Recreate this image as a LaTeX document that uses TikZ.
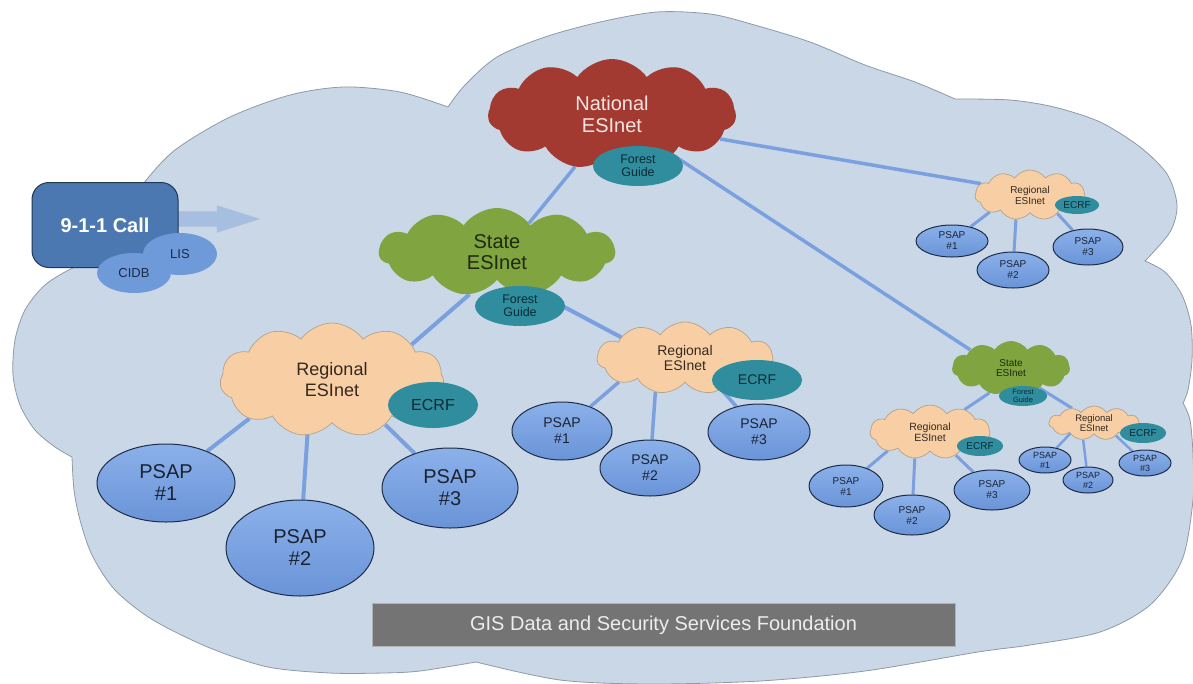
\documentclass[tikz,border=0pt]{standalone}
\usepackage{fontspec}
\setmainfont{Liberation Sans}
\usetikzlibrary{shapes.symbols,shapes.geometric,shapes.arrows}

\definecolor{bgfill}{HTML}{C9D7E6}
\definecolor{bgline}{HTML}{8D9AA8}
\definecolor{natred}{HTML}{A23A31}
\definecolor{nattext}{HTML}{F5E4E0}
\definecolor{stategreen}{HTML}{80A43F}
\definecolor{statetext}{HTML}{1E2A0E}
\definecolor{regfill}{HTML}{F8CFA5}
\definecolor{regline}{HTML}{B5A28A}
\definecolor{regtext}{HTML}{33291F}
\definecolor{tealfill}{HTML}{2F8D9D}
\definecolor{tealtext}{HTML}{0C2B36}
\definecolor{psaptop}{HTML}{8BB1EA}
\definecolor{psapbot}{HTML}{6A94D8}
\definecolor{psapline}{HTML}{1E2C48}
\definecolor{psaptext}{HTML}{1C2333}
\definecolor{linkblue}{HTML}{7BA0E0}
\definecolor{callblue}{HTML}{4B78B1}
\definecolor{callline}{HTML}{1F3656}
\definecolor{lisblue}{HTML}{6E9ADA}
\definecolor{listext}{HTML}{1B2B4A}
\definecolor{arrowblue}{HTML}{A6BEDF}
\definecolor{gisgray}{HTML}{747474}

\newcommand{\fsz}[2]{\fontsize{#1}{#2}\selectfont}

\pgfdeclarelayer{bgcloud}
\pgfdeclarelayer{links}
\pgfsetlayers{bgcloud,links,main}

\tikzset{
  esinet/.style={cloud, cloud puffs=11, cloud puff arc=110, cloud ignores aspect, inner sep=0pt, align=center},
  regional/.style={esinet, fill=regfill, draw=regline, line width=0.7pt, text=regtext},
  psap/.style={ellipse, draw=psapline, line width=1pt, top color=psaptop, bottom color=psapbot, inner sep=0pt, align=center, text=psaptext},
  helper/.style={ellipse, fill=tealfill, inner sep=0pt, align=center, text=tealtext},
  link/.style={draw=linkblue, line width=#1},
  link/.default=3.5pt,
}

\begin{document}
\begin{tikzpicture}[x=1pt,y=-1pt]
\useasboundingbox (0,0) rectangle (1193,683);

\begin{pgfonlayer}{bgcloud}
  \fill[white] (0,0) rectangle (1193,683);
  \path[fill=bgfill, draw=bgline, line width=0.8pt]
    plot[smooth] coordinates {(72,457) (55,447) (35,430) (20,405) (13,375) (15,340) (25,310) (45,285) (75,267) (108,258)}
    -- plot[smooth] coordinates {(108,258) (118,230) (130,205) (143,184) (175,150) (230,117) (290,95) (344,87) (400,92) (448,107)}
    -- plot[smooth] coordinates {(448,107) (465,85) (497,57) (545,37) (600,22) (657,12) (710,14) (751,24) (810,42) (865,65) (915,82) (955,99)}
    -- plot[smooth] coordinates {(955,99) (1010,100) (1054,107) (1100,122) (1140,147) (1167,174) (1177,205) (1170,232) (1145,261)}
    -- plot[smooth] coordinates {(1145,261) (1165,272) (1182,295) (1191,325) (1192,360) (1188,390) (1183,403)}
    -- plot[smooth] coordinates {(1183,403) (1190,420) (1193,455) (1193,500) (1182,560) (1150,605) (1100,632) (1030,645) (978,652) (865,671) (760,681) (650,684) (560,680) (476,662)}
    -- plot[smooth] coordinates {(476,662) (420,671) (383,673) (330,673) (268,667) (210,648) (153,620) (115,590) (92,555) (80,520) (74,490) (72,457)}
    -- cycle;
\end{pgfonlayer}

\node[single arrow, fill=arrowblue, inner xsep=0pt, inner ysep=7.5pt, single arrow head extend=6pt,
      single arrow tip angle=35, minimum height=86, anchor=west] (callarrow) at (174,219) {};
\node[rectangle, rounded corners=17, fill=callblue, draw=callline, line width=1pt, minimum width=146, minimum height=85,
      text=white, font=\fsz{20}{22}\bfseries] (call) at (105,225) {9-1-1 Call};
\node[ellipse, fill=lisblue, minimum width=74, minimum height=42, inner sep=0pt, text=listext, font=\fsz{13}{15}] (lis) at (180,254) {LIS};
\node[ellipse, fill=lisblue, minimum width=74, minimum height=40, inner sep=0pt, text=listext, font=\fsz{13}{15}] (cidb) at (134,273) {CIDB};

\node[esinet, fill=natred, text=nattext, minimum width=248, minimum height=110, font=\fsz{20}{22}] (national) at (612,114) {National\\ESInet};
\node[helper, minimum width=90, minimum height=40, font=\fsz{12.5}{13.5}] (natfg) at (638,166) {Forest\\Guide};

\node[esinet, fill=stategreen, text=statetext, minimum width=236, minimum height=88, font=\fsz{20}{21}] (state) at (497,252) {State\\ESInet};
\node[helper, minimum width=90, minimum height=40, font=\fsz{12.5}{13.5}] (statefg) at (520,306) {Forest\\Guide};

\node[regional, minimum width=224, minimum height=114, font=\fsz{18}{21}] (regA) at (332,380) {Regional\\ESInet};
\node[helper, minimum width=90, minimum height=46, font=\fsz{16}{18}] (ecrfA) at (433,405) {ECRF};
\foreach \i/\x/\y/\w/\h in {1/166/483/138/78, 2/300/548/148/96, 3/450/488/136/80}
  \node[psap, minimum width=\w, minimum height=\h, font=\fsz{20}{22}] (psapA\i) at (\x,\y) {PSAP\\\#\i};

\node[regional, minimum width=176, minimum height=72, font=\fsz{14}{15}] (regB) at (685,358) {Regional\\ESInet};
\node[helper, minimum width=90, minimum height=40, font=\fsz{14}{16}] (ecrfB) at (757,380) {ECRF};
\foreach \i/\x/\y/\w/\h in {1/562/431/100/58, 2/650/468/100/56, 3/759/432/102/56}
  \node[psap, minimum width=\w, minimum height=\h, font=\fsz{14}{16}] (psapB\i) at (\x,\y) {PSAP\\\#\i};

\node[regional, minimum width=110, minimum height=50, font=\fsz{10}{11}] (regC) at (1030,195) {Regional\\ESInet};
\node[helper, minimum width=44, minimum height=18, font=\fsz{10}{11}] (ecrfC) at (1077,205) {ECRF};
\foreach \i/\x/\y/\w/\h in {1/952/241/72/32, 2/1013/270/72/36, 3/1088/247/70/36}
  \node[psap, minimum width=\w, minimum height=\h, font=\fsz{10}{11}] (psapC\i) at (\x,\y) {PSAP\\\#\i};

\node[esinet, fill=stategreen, text=statetext, minimum width=118, minimum height=54, font=\fsz{10}{10.5}] (sstate) at (1011,368) {State\\ESInet};
\node[helper, minimum width=48, minimum height=20, font=\fsz{7.5}{8}] (sstatefg) at (1023,396) {Forest\\Guide};

\node[regional, minimum width=120, minimum height=54, font=\fsz{10.5}{10.5}] (regD) at (930,432) {Regional\\ESInet};
\node[helper, minimum width=46, minimum height=20, font=\fsz{10}{11}] (ecrfD) at (980,446) {ECRF};
\foreach \i/\x/\y/\w/\h in {1/846/486/74/42, 2/912/515/76/40, 3/992/490/76/40}
  \node[psap, minimum width=\w, minimum height=\h, font=\fsz{10}{11}] (psapD\i) at (\x,\y) {PSAP\\\#\i};

\node[regional, minimum width=90, minimum height=34, font=\fsz{9.5}{10}] (regE) at (1094,423) {Regional\\ESInet};
\node[helper, minimum width=46, minimum height=20, font=\fsz{10}{11}] (ecrfE) at (1143,433) {ECRF};
\foreach \i/\x/\y/\w/\h in {1/1045/460/52/26, 2/1088/480/50/26, 3/1145/463/52/26}
  \node[psap, minimum width=\w, minimum height=\h, font=\fsz{9}{10}] (psapE\i) at (\x,\y) {PSAP\\\#\i};

\node[rectangle, fill=gisgray, draw=gray!60, line width=0.6pt, minimum width=583, minimum height=43,
      text=white!93!black, font=\fsz{20}{22}] (gis) at (663.5,625) {GIS Data and Security Services Foundation};

\begin{pgfonlayer}{links}
  \draw[link] (national.235) -- (state.42);
  \draw[link] (national.347) -- (regC.167);
  \draw[link] (national.326) -- (sstate.156);
  \draw[link=4pt] (state.237) -- (regA.24);
  \draw[link=4pt] (state.315) -- (regB.162);
  \foreach \i/\a in {1/205,2/246,3/320}
    \draw[link=4pt] (regA.\a) -- (psapA\i);
  \foreach \i/\a in {1/200,2/229,3/319}
    \draw[link] (regB.\a) -- (psapB\i);
  \foreach \i/\a in {1/203,2/240,3/326}
    \draw[link=3pt] (regC.\a) -- (psapC\i);
  \draw[link=3pt] (sstate.229) -- (regD.33);
  \draw[link=3pt] (sstate.325) -- (regE.146);
  \foreach \i/\a in {1/204,2/240,3/318}
    \draw[link=3pt] (regD.\a) -- (psapD\i);
  \foreach \i/\a in {1/204,2/237,3/330}
    \draw[link=2.5pt] (regE.\a) -- (psapE\i);
\end{pgfonlayer}

\end{tikzpicture}
\end{document}
